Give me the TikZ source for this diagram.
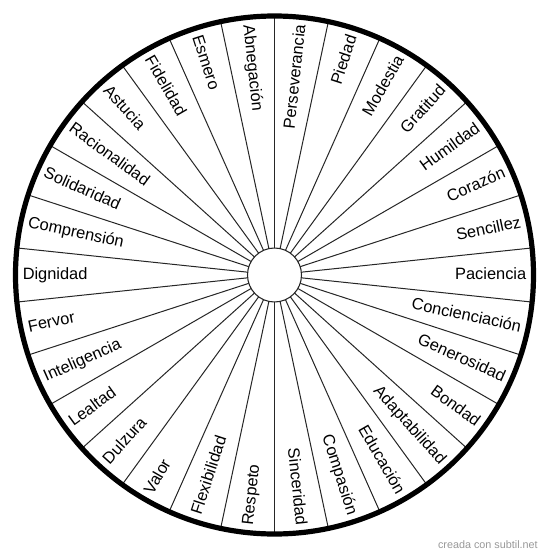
\documentclass[tikz,border=0pt]{standalone}
\usepackage{fontspec}
\setmainfont{Liberation Sans}
\begin{document}
\begin{tikzpicture}[x=0.75pt,y=0.75pt,
  lbl/.style={font=\fontsize{12.3}{14}\selectfont, inner sep=0pt, text height=0.716em, text depth=0pt},
  spoke/.style={draw=black!85, line width=0.75pt},
  rim/.style={draw=black, line width=3.9pt},
  hub/.style={draw=black!85, line width=0.8pt, fill=white},
  credittext/.style={font=\fontsize{8.1}{10}\selectfont, text=black!40, inner sep=0pt}]
\useasboundingbox[fill=white] (-274.5,-283) rectangle (275.5,275);
\foreach \k in {0,...,29}
  \draw[spoke] ({6+12*\k}:27) -- ({6+12*\k}:259);
\draw[rim] (0,0) circle (259);
\draw[hub] (0,0) circle (27);
\foreach \w [count=\i from 0] in {Paciencia,Sencillez,Corazón,Humildad,Gratitud,Modestia,Piedad,Perseverancia,Abnegación,Esmero,Fidelidad,Astucia,Racionalidad,Solidaridad,Comprensión,Dignidad,Fervor,Inteligencia,Lealtad,Dulzura,Valor,Flexibilidad,Respeto,Sinceridad,Compasión,Educación,Adaptabilidad,Bondad,Generosidad,Concienciación}{
  \pgfmathtruncatemacro\a{12*\i}
  \ifnum\a<90
    \node[lbl,anchor=east,rotate=\a] (w\i) at (\a:252) {\w};
  \else\ifnum\a>270
    \node[lbl,anchor=east,rotate=\a] (w\i) at (\a:252) {\w};
  \else
    \node[lbl,anchor=west,rotate=\a-180] (w\i) at (\a:252) {\w};
  \fi\fi
}
\node[credittext,anchor=base east] (credit) at (263.5,-273) {creada con subtil.net};
\end{tikzpicture}
\end{document}
